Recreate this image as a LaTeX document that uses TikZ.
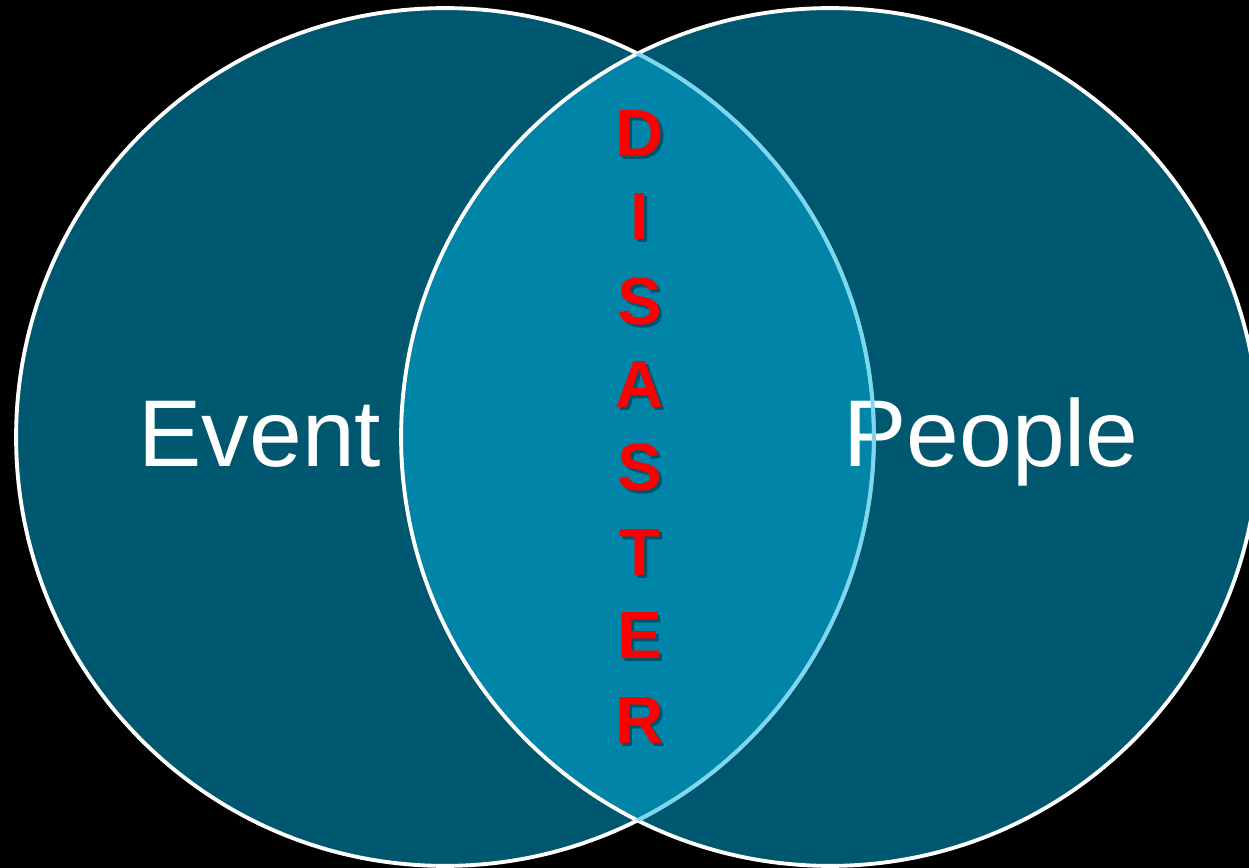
\documentclass[tikz,border=0pt]{standalone}
\usepackage{fontspec}
\setmainfont{Liberation Sans}
\definecolor{ringfill}{RGB}{0,88,112}
\definecolor{ringtint}{RGB}{0,176,224}
\definecolor{lensedge}{RGB}{127,215,239}
\definecolor{letterred}{RGB}{255,0,0}

\begin{document}
\begin{tikzpicture}[x=0.02cm,y=-0.02cm]

        \fill[black] (0,0) rectangle (1249,868);
        \useasboundingbox (0,0) rectangle (1249,868);

        \coordinate (eventc)  at (445,437);
        \coordinate (peoplec) at (830,437);

        % the two rings, the right one tinted over the left
        \draw[white, line width=2.2pt, fill=ringfill] (eventc) circle (8.58cm);
        \draw[white, line width=2.2pt, fill=ringtint, fill opacity=.5] (peoplec) circle (8.58cm);

        \begin{scope}[every node/.style={text=white, inner sep=0pt, anchor=base,
            font=\fontsize{54pt}{60pt}\selectfont}]
          \node (event)  at (260,467) {Event};
          \node (people) at (991,467) {People};
        \end{scope}

        % left ring edge seen through the right ring
        \begin{scope}
          \clip (peoplec) circle (8.58cm);
          \draw[lensedge, line width=2.2pt] (eventc) circle (8.58cm);
        \end{scope}

        \begin{scope}[every node/.style={inner sep=0pt, anchor=base,
            font=\fontsize{38pt}{40pt}\selectfont\bfseries}]

          \begin{scope}[every node/.append style={text=black, text opacity=.35}, shift={(3,3)}]
            \node (ds)  at (640,157) {D};
            \node (is)  at (640,240) {I};
            \node (ss)  at (640,325) {S};
            \node (as)  at (640,408) {A};
            \node (s2s) at (640,491) {S};
            \node (ts)  at (640,576) {T};
            \node (es)  at (640,659) {E};
            \node (rs)  at (640,743) {R};
          \end{scope}

          \begin{scope}[every node/.append style={text=letterred}]
            \node (d)  at (640,157) {D};
            \node (i)  at (640,240) {I};
            \node (s)  at (640,325) {S};
            \node (a)  at (640,408) {A};
            \node (s2) at (640,491) {S};
            \node (t)  at (640,576) {T};
            \node (e)  at (640,659) {E};
            \node (r)  at (640,743) {R};
          \end{scope}
        \end{scope}

      \end{tikzpicture}
\end{document}
